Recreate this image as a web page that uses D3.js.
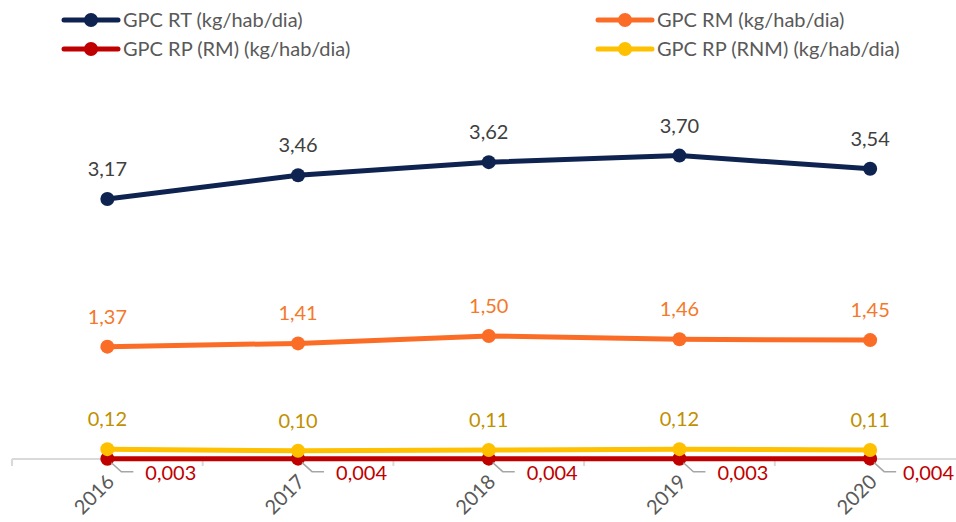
<!DOCTYPE html>
<html>
<head>
<meta charset="utf-8">
<script src="https://cdn.jsdelivr.net/npm/d3@7"></script>
<style>
  body { margin: 0; background: #fff; }
  svg { display: block; font-family: Lato, "Open Sans", sans-serif; }
</style>
</head>
<body>
<div id="container"></div>
<script>
// data
const years = ["2016", "2017", "2018", "2019", "2020"];
const gpcRT = [3.17, 3.46, 3.62, 3.70, 3.54];
const gpcRM = [1.37, 1.41, 1.50, 1.46, 1.45];
const gpcRPRM = [0.003, 0.004, 0.004, 0.003, 0.004];
const gpcRPRNM = [0.12, 0.10, 0.11, 0.12, 0.11];

const seriesNames = [
  "GPC RT (kg/hab/dia)",
  "GPC RM (kg/hab/dia)",
  "GPC RP (RM) (kg/hab/dia)",
  "GPC RP (RNM) (kg/hab/dia)"
];

const w = 956, h = 522;
const fs = 20;

const svg = d3.select("#container")
  .append("svg")
  .attr("width", w)
  .attr("height", h);

const xScale = d3.scaleBand()
  .domain(years)
  .range([12, 12 + 5 * 190.7]);

const yScale = d3.scaleLinear()
  .domain([0, 4.5])
  .range([459, 90]);

const cx = d => xScale(d) + xScale.bandwidth() / 2;

// x axis baseline + ticks between categories
const axis = svg.append("g").attr("id", "x-axis");
axis.append("line")
  .attr("x1", xScale.range()[0]).attr("x2", xScale.range()[1])
  .attr("y1", yScale(0)).attr("y2", yScale(0))
  .attr("stroke", "#d9d9d9").attr("stroke-width", 2);
axis.selectAll(".tk")
  .data(years.concat(["end"]))
  .enter().append("line")
  .attr("x1", (d, i) => xScale.range()[0] + i * xScale.bandwidth())
  .attr("x2", (d, i) => xScale.range()[0] + i * xScale.bandwidth())
  .attr("y1", yScale(0)).attr("y2", yScale(0) + 7)
  .attr("stroke", "#d9d9d9").attr("stroke-width", 2);
axis.selectAll(".yr")
  .data(years)
  .enter().append("text")
  .attr("transform", d => "translate(" + (cx(d) + 8) + "," + (yScale(0) + 24) + ") rotate(-45)")
  .attr("text-anchor", "end")
  .attr("font-size", fs)
  .attr("fill", "#595959")
  .text(d => d);

const series = [
  { name: seriesNames[0], values: gpcRT, color: "#0e2350", label: "#404040", fmt: ",.2f" },
  { name: seriesNames[1], values: gpcRM, color: "#fb6d27", label: "#f4792b", fmt: ",.2f" },
  { name: seriesNames[3], values: gpcRPRNM, color: "#ffc000", label: "#bf9000", fmt: ",.2f" },
  { name: seriesNames[2], values: gpcRPRM, color: "#c00000", label: "#c00000", fmt: ",.3f" }
];

const fmtComma = (f) => (v) => d3.format(f)(v).replace(".", ",");

const line = d3.line()
  .x((d, i) => cx(years[i]))
  .y(d => yScale(d));

// draw red first so yellow sits over it
const drawOrder = [series[3], series[2], series[1], series[0]];
drawOrder.forEach(s => {
  const g = svg.append("g");
  g.append("path")
    .datum(s.values)
    .attr("d", line)
    .attr("fill", "none")
    .attr("stroke", s.color)
    .attr("stroke-width", 5)
    .attr("stroke-linejoin", "round");
  g.selectAll("circle")
    .data(s.values)
    .enter().append("circle")
    .attr("cx", (d, i) => cx(years[i]))
    .attr("cy", d => yScale(d))
    .attr("r", 7)
    .attr("fill", s.color);
});

// data labels
series.slice(0, 3).forEach(s => {
  svg.append("g").selectAll("text")
    .data(s.values)
    .enter().append("text")
    .attr("x", (d, i) => cx(years[i]))
    .attr("y", d => yScale(d) - 23)
    .attr("text-anchor", "middle")
    .attr("font-size", fs)
    .attr("fill", s.label)
    .text(fmtComma(s.fmt));
});

// red labels with leader lines (last one is pushed back inside the frame)
const rp = series[3];
const rpG = svg.append("g");
rp.values.forEach((v, i) => {
  const x0 = cx(years[i]), y0 = yScale(v);
  rpG.append("polyline")
    .attr("points", [[x0 + 4, y0 + 4], [x0 + 14, y0 + 13], [x0 + 26, y0 + 13]].map(p => p.join(",")).join(" "))
    .attr("fill", "none")
    .attr("stroke", "#a6a6a6")
    .attr("stroke-width", 1.5);
  const t = rpG.append("text")
    .attr("x", x0 + 38)
    .attr("y", y0 + 21)
    .attr("font-size", fs)
    .attr("fill", rp.label)
    .text(fmtComma(rp.fmt)(v));
  const tw = t.node().getComputedTextLength();
  if (x0 + 38 + tw > w - 2) t.attr("x", w - 2 - tw);
});

// legend
const legendItems = [
  { s: series[0], x: 62, y: 20 },
  { s: series[1], x: 596, y: 20 },
  { s: series[3], x: 62, y: 49 },
  { s: series[2], x: 596, y: 49 }
];
const legend = svg.append("g").attr("id", "legend");
legendItems.forEach(it => {
  const g = legend.append("g").attr("transform", "translate(" + it.x + "," + it.y + ")");
  g.append("line")
    .attr("x1", 2).attr("x2", 56)
    .attr("stroke", it.s.color).attr("stroke-width", 5)
    .attr("stroke-linecap", "round");
  g.append("circle").attr("cx", 29).attr("r", 7).attr("fill", it.s.color);
  g.append("text")
    .attr("x", 61).attr("y", 7)
    .attr("font-size", fs)
    .attr("fill", "#595959")
    .text(it.s.name);
});
</script>
</body>
</html>
